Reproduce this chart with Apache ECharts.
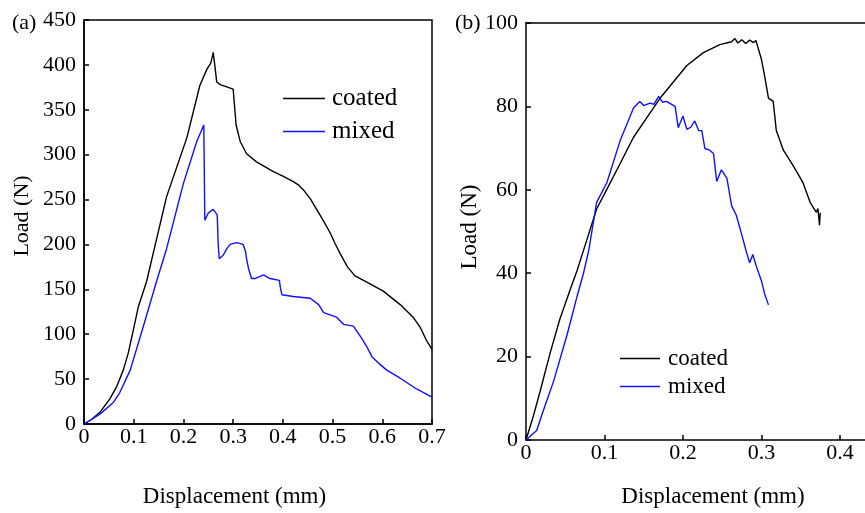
<!DOCTYPE html>
<html>
<head>
<meta charset="utf-8">
<script src="https://cdn.jsdelivr.net/npm/echarts@6/dist/echarts.min.js"></script>
<style>html,body{margin:0;padding:0;background:#fff}#c{width:865px;height:513px}</style>
</head>
<body>
<div id="c"></div>
<script>
// Panel (a)
const aCoatedX = [0, 0.015, 0.032, 0.052, 0.066, 0.079, 0.089, 0.099, 0.109, 0.126, 0.143, 0.166, 0.207, 0.233, 0.247, 0.255, 0.260, 0.263, 0.267, 0.274, 0.300, 0.303, 0.306, 0.314, 0.327, 0.347, 0.381, 0.400, 0.421, 0.432, 0.441, 0.455, 0.468, 0.482, 0.495, 0.505, 0.515, 0.530, 0.545, 0.569, 0.602, 0.636, 0.662, 0.676, 0.689, 0.700];
const aCoatedY = [0, 5, 13, 28, 42, 60, 79, 104, 130, 159, 199, 253, 319, 377, 395, 402, 414, 413, 381, 378, 373, 371, 333, 315, 301, 292, 281, 276, 270, 266, 261, 251, 239, 226, 213, 201, 190, 175, 165, 158, 148, 133, 119, 108, 93, 83];
const aMixedX = [0, 0.015, 0.032, 0.059, 0.072, 0.093, 0.119, 0.146, 0.166, 0.200, 0.227, 0.241, 0.243, 0.250, 0.260, 0.268, 0.270, 0.272, 0.280, 0.287, 0.294, 0.307, 0.320, 0.325, 0.327, 0.331, 0.337, 0.344, 0.361, 0.374, 0.393, 0.395, 0.398, 0.421, 0.455, 0.472, 0.482, 0.508, 0.522, 0.542, 0.559, 0.569, 0.579, 0.594, 0.609, 0.636, 0.669, 0.700];
const aMixedY = [0, 5, 11, 24, 35, 60, 108, 159, 195, 268, 315, 333, 227, 235, 239, 233, 200, 184, 188, 195, 200, 202, 200, 192, 184, 173, 162, 162, 166, 162, 160, 152, 144, 142, 140, 133, 124, 119, 111, 109, 95, 86, 75, 67, 60, 51, 39, 30];
// Panel (b)
const bCoatedX = [0, 0.009, 0.018, 0.031, 0.043, 0.056, 0.065, 0.075, 0.090, 0.103, 0.120, 0.137, 0.154, 0.171, 0.188, 0.205, 0.226, 0.247, 0.262, 0.266, 0.270, 0.275, 0.280, 0.285, 0.290, 0.293, 0.300, 0.304, 0.309, 0.315, 0.319, 0.328, 0.341, 0.353, 0.362, 0.370, 0.372, 0.374, 0.375];
const bCoatedY = [0, 5.5, 11.7, 21, 28.9, 35.9, 40.6, 46.5, 55.4, 60.1, 66.3, 72.6, 77.3, 82, 85.9, 89.8, 92.9, 94.8, 95.5, 96.3, 95.2, 96, 95.1, 95.9, 95.3, 95.8, 91.3, 87.4, 82, 81.2, 74.2, 69.5, 65.6, 61.7, 57, 54.6, 55.5, 51.5, 54.5];
const bMixedX = [0, 0.0136, 0.022, 0.035, 0.052, 0.065, 0.073, 0.080, 0.090, 0.103, 0.120, 0.137, 0.145, 0.150, 0.158, 0.163, 0.169, 0.174, 0.179, 0.190, 0.194, 0.200, 0.205, 0.210, 0.215, 0.220, 0.224, 0.228, 0.234, 0.239, 0.243, 0.249, 0.256, 0.262, 0.268, 0.275, 0.281, 0.285, 0.289, 0.294, 0.300, 0.304, 0.309];
const bMixedY = [0, 2.3, 7, 14, 25, 34.4, 39.8, 45.5, 57, 61.7, 71.8, 79.6, 81.2, 80.2, 80.8, 80.5, 82.4, 81, 81.2, 80, 74.9, 77.7, 74.5, 75, 76.5, 74.2, 74.2, 69.9, 69.5, 68.7, 62, 64.8, 62.8, 56.2, 53.9, 49.2, 45, 42.5, 44.5, 41.4, 38.2, 35.1, 32.4];

const seriesNames = ['coated', 'mixed'];
const panelLabels = ['(a)', '(b)'];
const xName = 'Displacement (mm)';
const yName = 'Load (N)';

const FONT = "'Liberation Serif', 'Times New Roman', serif";
const zip = (xs, ys) => xs.map((x, i) => [x, ys[i]]);
const axisLineStyle = {color: '#000', width: 1.5};

function xAxisCfg(grid, max, gap, pad) {
  return {
    gridIndex: grid, type: 'value', min: 0, max: max, interval: 0.1,
    axisLine: {lineStyle: axisLineStyle},
    axisTick: {inside: true, length: 5, lineStyle: axisLineStyle},
    axisLabel: {color: '#000', fontSize: 22, fontFamily: FONT, margin: 2, showMaxLabel: grid === 0},
    splitLine: {show: false},
    name: xName, nameLocation: 'middle', nameGap: gap,
    nameTextStyle: {color: '#000', fontSize: 23, fontFamily: FONT, padding: pad}
  };
}
function yAxisCfg(grid, max, interval, gap, size, pad) {
  return {
    gridIndex: grid, type: 'value', min: 0, max: max, interval: interval,
    axisLine: {lineStyle: axisLineStyle},
    axisTick: {inside: true, length: 5, lineStyle: axisLineStyle},
    axisLabel: {color: '#000', fontSize: 22, fontFamily: FONT, margin: 8},
    splitLine: {show: false},
    name: yName, nameLocation: 'middle', nameGap: gap,
    nameTextStyle: {color: '#000', fontSize: size, fontFamily: FONT, padding: pad}
  };
}
function lineSeries(name, data, color, axis) {
  return {
    name: name, type: 'line', data: data, xAxisIndex: axis, yAxisIndex: axis,
    showSymbol: false, symbol: 'none', animation: false,
    lineStyle: {color: color, width: 1.4}, itemStyle: {color: color}
  };
}

const chart = echarts.init(document.getElementById('c'), null, {renderer: 'canvas'});
chart.setOption({
  animation: false,
  backgroundColor: '#fff',
  grid: [
    {left: 84, top: 20, width: 348, height: 412, show: true, borderColor: '#000', borderWidth: 1.5, backgroundColor: 'transparent'},
    {left: 526, top: 23, width: 339, height: 427}
  ],
  xAxis: [
    xAxisCfg(0, 0.7, 61, [0, 47, 0, 0]),
    xAxisCfg(1, 0.432, 45, [0, 0, 0, 35]),
    {gridIndex: 1, type: 'value', position: 'top', min: 0, max: 0.432, interval: 0.1,
     axisLine: {lineStyle: axisLineStyle}, axisTick: {show: false}, axisLabel: {show: false}, splitLine: {show: false}}
  ],
  yAxis: [
    yAxisCfg(0, 450, 50, 51, 22, [0, 0, 0, 12]),
    yAxisCfg(1, 100, 20, 41, 23, [0, 0, 0, 9])
  ],
  legend: [
    {orient: 'vertical', left: 278, top: 81, padding: 5, icon: 'rect', itemWidth: 42, itemHeight: 1.5, itemGap: 8,
     data: seriesNames, textStyle: {color: '#000', fontSize: 25, fontFamily: FONT, lineHeight: 25, padding: [0, 0, 0, 2]}},
    {orient: 'vertical', left: 615, top: 342, padding: 5, icon: 'rect', itemWidth: 40, itemHeight: 1.5, itemGap: 5,
     data: seriesNames, textStyle: {color: '#000', fontSize: 23, fontFamily: FONT, lineHeight: 23, padding: [0, 0, 0, 3]}}
  ],
  graphic: [
    {type: 'text', left: 12, top: 12, style: {text: panelLabels[0], font: '22px ' + FONT, fill: '#000'}},
    {type: 'text', left: 455, top: 12, style: {text: panelLabels[1], font: '22px ' + FONT, fill: '#000'}}
  ],
  series: [
    lineSeries(seriesNames[0], zip(aCoatedX, aCoatedY), '#000000', 0),
    lineSeries(seriesNames[1], zip(aMixedX, aMixedY), '#1010ff', 0),
    lineSeries(seriesNames[0], zip(bCoatedX, bCoatedY), '#000000', 1),
    lineSeries(seriesNames[1], zip(bMixedX, bMixedY), '#1010ff', 1)
  ]
});
</script>
</body>
</html>
